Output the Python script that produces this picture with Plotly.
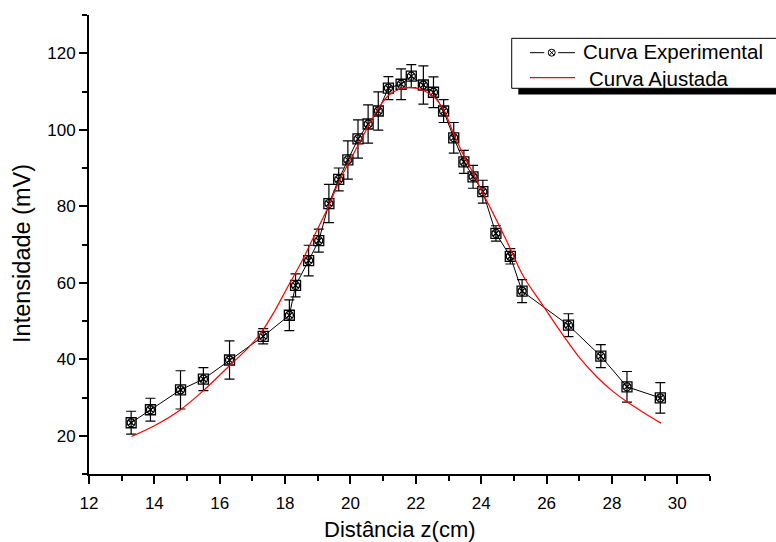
import plotly.graph_objects as go

z_exp = [13.29, 13.88, 14.80, 15.50, 16.30, 17.33, 18.13, 18.32, 18.72, 19.03,
         19.34, 19.64, 19.92, 20.23, 20.54, 20.85, 21.16, 21.55, 21.86, 22.23,
         22.54, 22.85, 23.16, 23.47, 23.75, 24.05, 24.45, 24.89, 25.25, 26.67,
         27.66, 28.46, 29.48]
i_exp = [23.4, 26.8, 32.0, 34.8, 39.8, 46.0, 51.5, 59.3, 65.8, 71.0,
         80.7, 87.0, 92.1, 97.6, 101.5, 104.9, 110.9, 111.9, 114.0, 111.7,
         109.8, 104.9, 97.9, 91.6, 87.7, 83.8, 72.9, 66.9, 57.8, 48.9,
         40.8, 32.8, 29.9]
i_err = [3, 3, 5, 3, 5, 2, 4, 3, 4, 3,
         5, 3, 5, 5, 5, 5, 3, 4, 3, 5,
         4, 3, 4, 3, 3, 3, 2, 2, 3, 3,
         3, 4, 4]

# Fitted curve
z_fit = [13.3, 14.0, 14.8, 15.5, 16.35, 16.86, 17.27, 17.68, 18.04, 18.5,
         18.91, 19.33, 19.6, 19.94, 20.35, 20.84, 21.18, 21.49, 21.84, 22.2,
         22.55, 22.85, 23.15, 23.45, 23.75, 24.1, 24.46, 24.88, 25.29, 25.9,
         26.52, 27.0, 27.55, 28.0, 28.47, 29.0, 29.5]
i_fit = [19.8, 22.6, 26.8, 31.8, 38.75, 42.9, 47.0, 52.6, 58.3, 65.4,
         72.6, 80.0, 85.5, 91.3, 97.8, 105.5, 109.1, 110.6, 111.1, 110.4,
         108.6, 105.2, 99.1, 93.5, 88.7, 82.6, 76.5, 69.1, 61.7, 53.9,
         46.1, 40.5, 35.3, 31.8, 28.8, 25.9, 23.3]

x_ticks = [12, 14, 16, 18, 20, 22, 24, 26, 28, 30]
y_ticks = [20, 40, 60, 80, 100, 120]

legend_names = ["Curva Experimental", " Curva Ajustada"]
x_title = "Distância z(cm)"
y_title = "Intensidade (mV)"

FONT = "Liberation Sans, Arial, sans-serif"

fig = go.Figure()
fig.add_trace(go.Scatter(
    x=z_exp, y=i_exp, mode="lines+markers", name=legend_names[0], showlegend=False,
    line=dict(color="black", width=1),
    marker=dict(symbol="circle-x-open", size=8, color="black", line=dict(width=1.3, color="black")),
    error_y=dict(type="data", array=i_err, visible=True, color="black", thickness=1.2, width=5),
))
fig.add_trace(go.Scatter(
    x=z_exp, y=i_exp, mode="markers", showlegend=False, hoverinfo="skip",
    marker=dict(symbol="square-open", size=10, color="black", line=dict(width=1.3, color="black")),
))
fig.add_trace(go.Scatter(
    x=z_fit, y=i_fit, mode="lines", name=legend_names[1], showlegend=False,
    line=dict(color="#ff0000", width=1.2, shape="spline"),
))

axis_common = dict(
    showline=True, linecolor="black", linewidth=2, showgrid=False, zeroline=False,
    ticks="outside", tickcolor="black", tickwidth=2, ticklen=8,
    tickfont=dict(family=FONT, size=17, color="black"),
    mirror=False, automargin=False,
)
fig.update_xaxes(range=[12, 31], tickvals=x_ticks, ticktext=[str(v) for v in x_ticks],
                 ticklabelstandoff=5,
                 minor=dict(dtick=1, tick0=0, ticks="outside", ticklen=5, tickcolor="black", tickwidth=2),
                 **axis_common)
fig.update_yaxes(range=[10, 130], tickvals=y_ticks, ticktext=[str(v) for v in y_ticks],
                 minor=dict(dtick=10, tick0=0, ticks="outside", ticklen=5, tickcolor="black", tickwidth=2),
                 **axis_common)

# axis titles
fig.add_annotation(text=x_title, xref="paper", yref="paper", x=0.5, y=-0.122,
                   xanchor="center", yanchor="middle", showarrow=False,
                   font=dict(family=FONT, size=22, color="black"))
fig.add_annotation(text=y_title, xref="paper", yref="paper", x=-0.108, y=0.4815,
                   xanchor="center", yanchor="middle", showarrow=False, textangle=-90,
                   font=dict(family=FONT, size=23.5, color="black"))

# ---- manual legend (box with shadow) ----
fig.add_shape(type="rect", xref="paper", yref="paper", x0=0.6913, x1=1.15, y0=0.8268, y1=0.8403,
              fillcolor="black", line=dict(width=0), layer="above")
fig.add_shape(type="rect", xref="paper", yref="paper", x0=0.6807, x1=1.15, y0=0.8403, y1=0.9492,
              fillcolor="white", line=dict(color="black", width=1), layer="above")
# row 1: black line with circle-x marker
fig.add_shape(type="line", xref="paper", yref="paper", x0=0.7101, x1=0.7331, y0=0.9179, y1=0.9179,
              line=dict(color="black", width=1), layer="above")
fig.add_shape(type="line", xref="paper", yref="paper", x0=0.7557, x1=0.7826, y0=0.9179, y1=0.9179,
              line=dict(color="black", width=1), layer="above")
mx, my, rx, ry = 0.7451, 0.9179, 0.0056, 0.0076
fig.add_shape(type="circle", xref="paper", yref="paper", x0=mx - rx, x1=mx + rx, y0=my - ry, y1=my + ry,
              line=dict(color="black", width=1), layer="above")
fig.add_shape(type="line", xref="paper", yref="paper", x0=mx - rx * 0.7, x1=mx + rx * 0.7,
              y0=my - ry * 0.7, y1=my + ry * 0.7, line=dict(color="black", width=1), layer="above")
fig.add_shape(type="line", xref="paper", yref="paper", x0=mx - rx * 0.7, x1=mx + rx * 0.7,
              y0=my + ry * 0.7, y1=my - ry * 0.7, line=dict(color="black", width=1), layer="above")
# row 2: red line
fig.add_shape(type="line", xref="paper", yref="paper", x0=0.7101, x1=0.7826, y0=0.8634, y1=0.8634,
              line=dict(color="#ff0000", width=1.2), layer="above")
fig.add_annotation(text=legend_names[0], xref="paper", yref="paper", x=0.7923, y=0.9200,
                   xanchor="left", yanchor="middle", showarrow=False,
                   font=dict(family=FONT, size=20.5, color="black"))
fig.add_annotation(text=legend_names[1].strip(), xref="paper", yref="paper", x=0.8014, y=0.8627,
                   xanchor="left", yanchor="middle", showarrow=False,
                   font=dict(family=FONT, size=20.5, color="black"))

fig.update_layout(
    width=776, height=542,
    margin=dict(l=89, r=66, t=15, b=68),
    plot_bgcolor="white", paper_bgcolor="white",
    showlegend=False,
    font=dict(family=FONT, color="black"),
)

fig.write_html(
    "out.html",
    config={"displayModeBar": False},
    post_script="document.body.style.margin='0';document.body.style.overflow='hidden';",
)
